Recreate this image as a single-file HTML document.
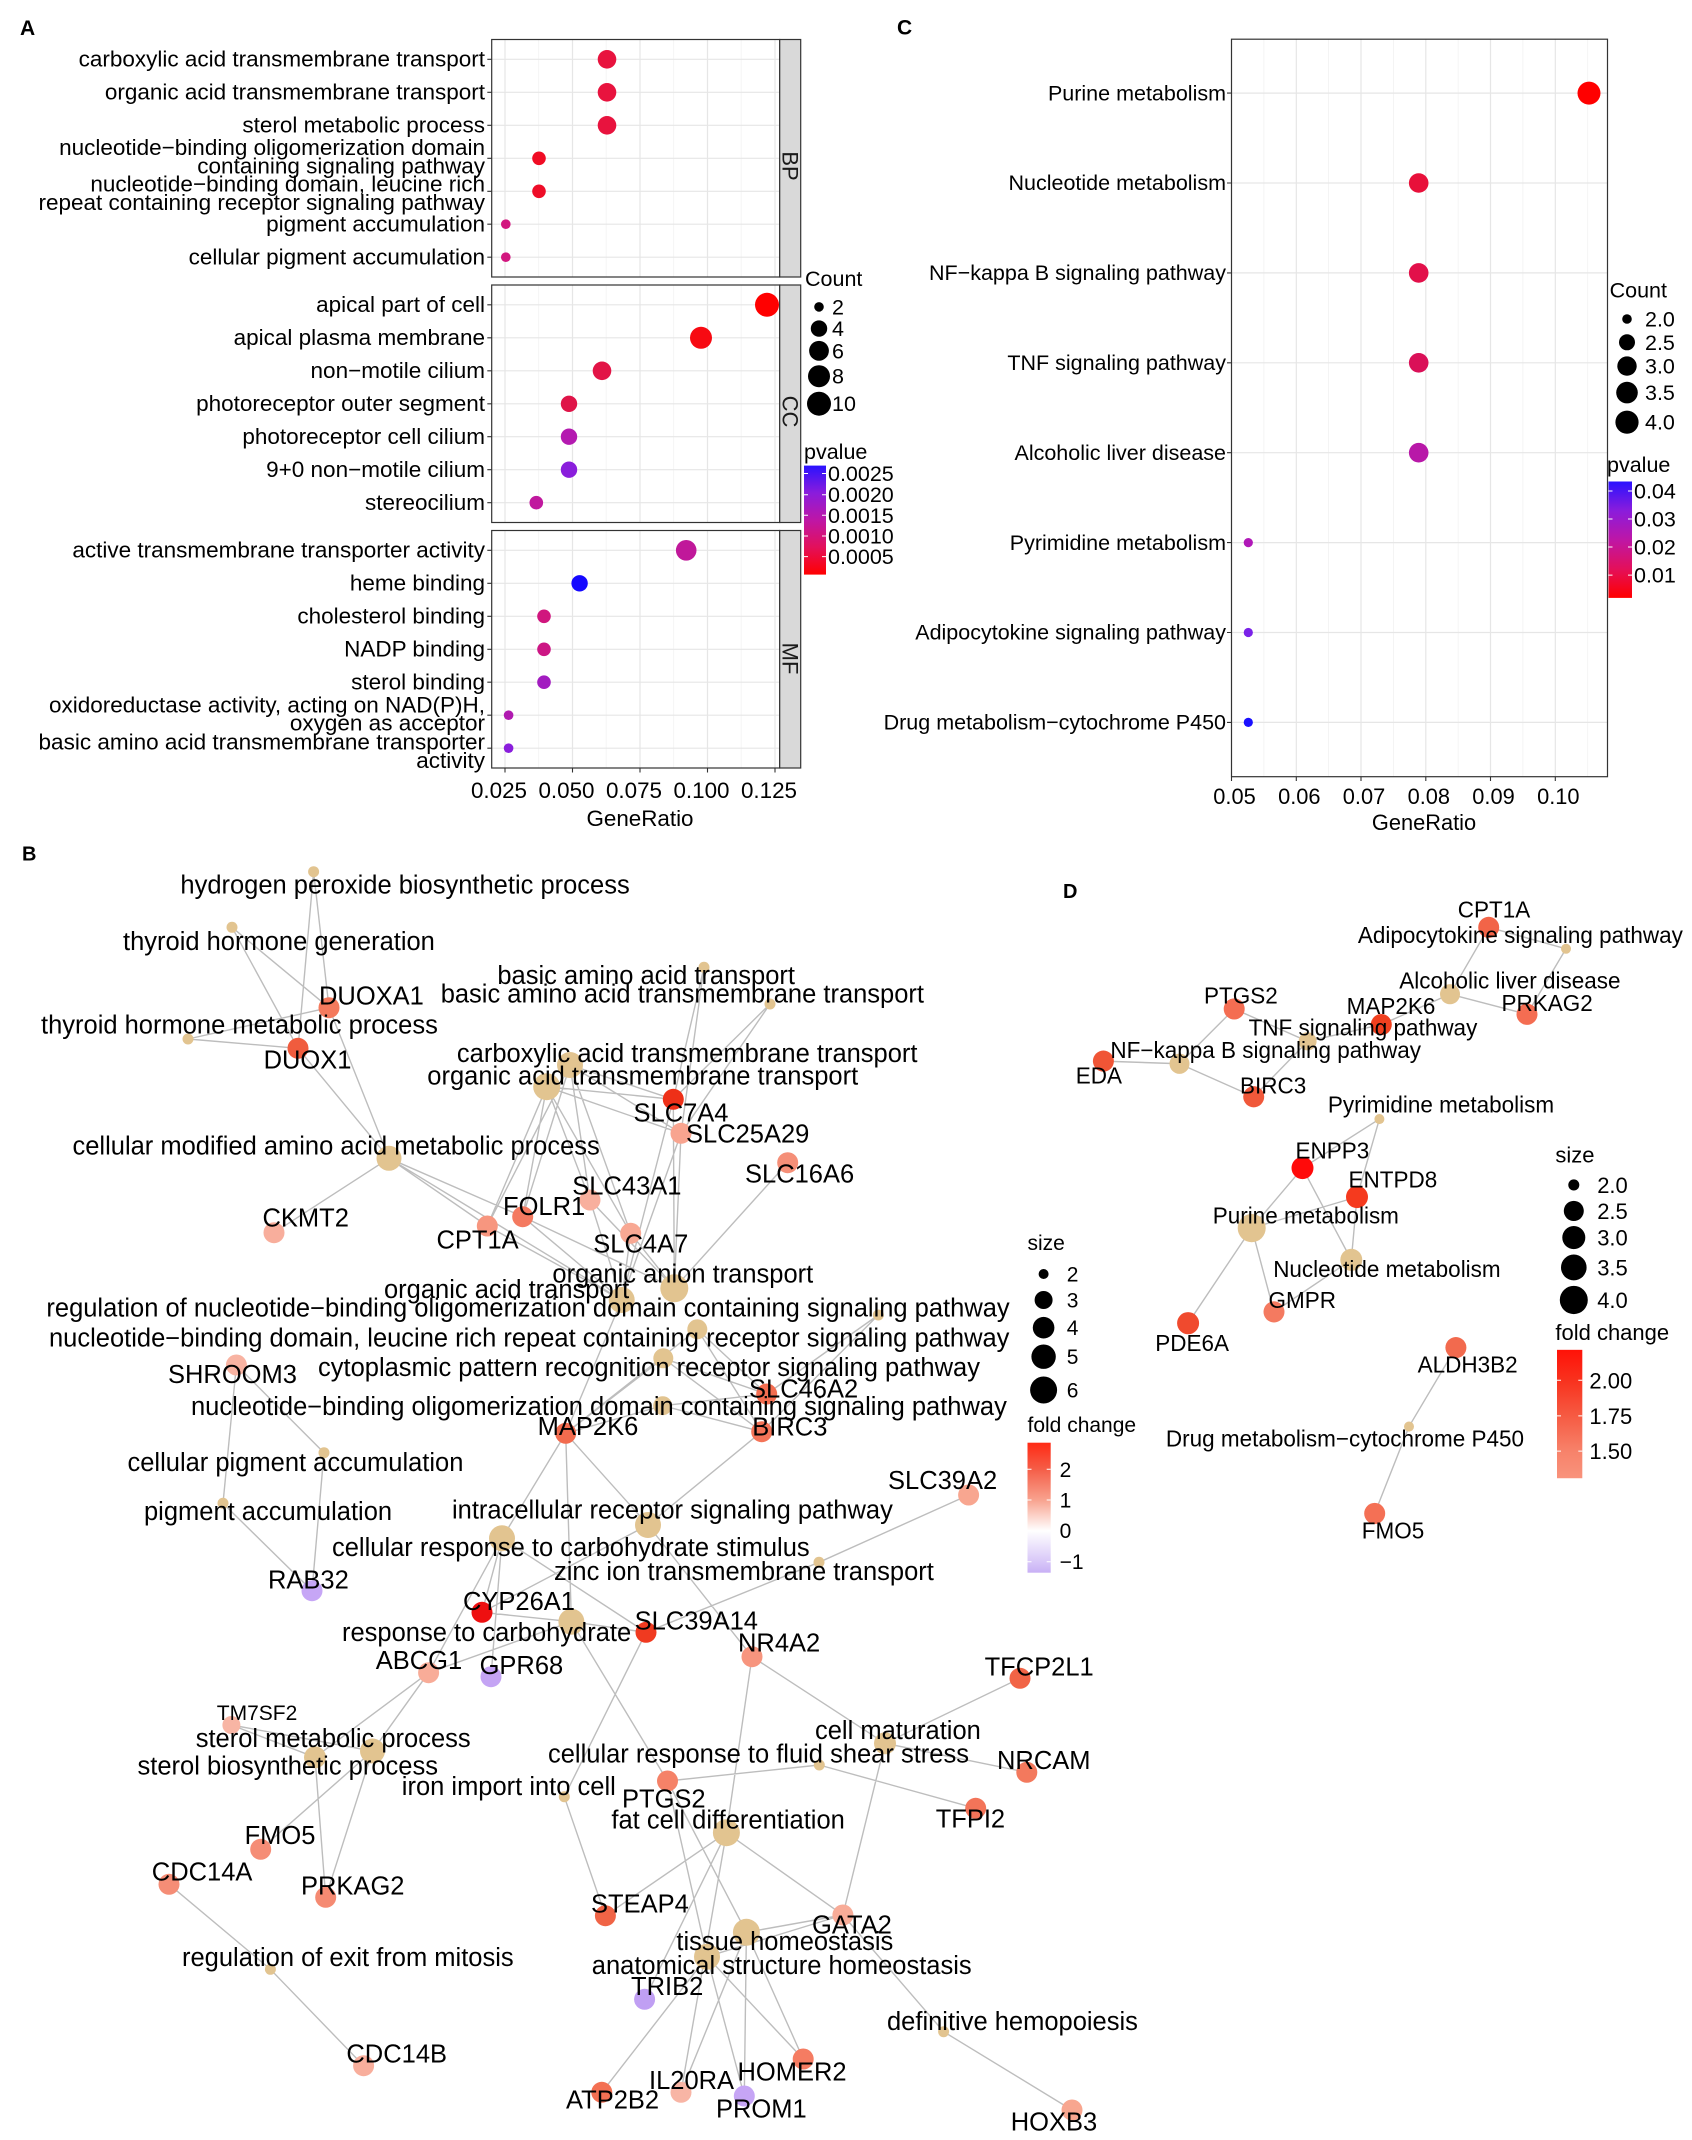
<!DOCTYPE html>
<html><head><meta charset="utf-8"><style>
html,body{margin:0;padding:0;background:#fff;}
svg{display:block;font-family:"Liberation Sans",Arial,sans-serif;}
</style></head><body>
<svg xmlns="http://www.w3.org/2000/svg" width="1692" height="2140" viewBox="0 0 1692 2140">
<defs>
<linearGradient id="gA" x1="0" y1="0" x2="0" y2="1">
<stop offset="0" stop-color="#2A12FF"/><stop offset="0.25" stop-color="#8A1CDC"/><stop offset="0.5" stop-color="#BE16A6"/><stop offset="0.75" stop-color="#E3105A"/><stop offset="1" stop-color="#FF0000"/></linearGradient>
<linearGradient id="gC" x1="0" y1="0" x2="0" y2="1">
<stop offset="0" stop-color="#2A12FF"/><stop offset="0.25" stop-color="#8A1CDC"/><stop offset="0.5" stop-color="#BE16A6"/><stop offset="0.75" stop-color="#E3105A"/><stop offset="1" stop-color="#FF0000"/></linearGradient>
<linearGradient id="gB" x1="0" y1="0" x2="0" y2="1">
<stop offset="0" stop-color="#FF2A14"/><stop offset="0.205" stop-color="#F55E48"/><stop offset="0.44" stop-color="#F8A28E"/><stop offset="0.677" stop-color="#FFFFFF"/><stop offset="0.915" stop-color="#D8C7F8"/><stop offset="1" stop-color="#C8B0F5"/></linearGradient>
<linearGradient id="gD" x1="0" y1="0" x2="0" y2="1">
<stop offset="0" stop-color="#FF1208"/><stop offset="0.24" stop-color="#F8321E"/><stop offset="0.51" stop-color="#F65A42"/><stop offset="0.79" stop-color="#F7826A"/><stop offset="1" stop-color="#F9937C"/></linearGradient>
</defs>
<rect x="0" y="0" width="1692" height="2140" fill="#fff"/>

<!-- ================= PANEL A ================= -->
<text x="20" y="35" font-size="21" font-weight="bold">A</text>
<g>
<rect x="491.7" y="39.5" width="288" height="237.5" fill="#fff"/>
<rect x="491.7" y="285" width="288" height="237.5" fill="#fff"/>
<rect x="491.7" y="530.5" width="288" height="237.5" fill="#fff"/>
<g stroke="#F2F2F2" stroke-width="0.8">
<path d="M538.7 39.5V277M606.2 39.5V277M673.7 39.5V277M741.2 39.5V277"/>
<path d="M538.7 285V522.5M606.2 285V522.5M673.7 285V522.5M741.2 285V522.5"/>
<path d="M538.7 530.5V768M606.2 530.5V768M673.7 530.5V768M741.2 530.5V768"/>
</g>
<g stroke="#E6E6E6" stroke-width="1.2">
<path d="M505 39.5V277M572.5 39.5V277M640 39.5V277M707.5 39.5V277M775 39.5V277"/>
<path d="M505 285V522.5M572.5 285V522.5M640 285V522.5M707.5 285V522.5M775 285V522.5"/>
<path d="M505 530.5V768M572.5 530.5V768M640 530.5V768M707.5 530.5V768M775 530.5V768"/>
<path d="M491.7 59.3H779.7M491.7 92.3H779.7M491.7 125.3H779.7M491.7 158.3H779.7M491.7 191.3H779.7M491.7 224.2H779.7M491.7 257.2H779.7"/>
<path d="M491.7 304.8H779.7M491.7 337.8H779.7M491.7 370.8H779.7M491.7 403.8H779.7M491.7 436.7H779.7M491.7 469.7H779.7M491.7 502.7H779.7"/>
<path d="M491.7 550.3H779.7M491.7 583.3H779.7M491.7 616.3H779.7M491.7 649.3H779.7M491.7 682.2H779.7M491.7 715.2H779.7M491.7 748.2H779.7"/>
</g>
<circle cx="607" cy="59.3" r="9.3" fill="#E8133E"/>
<circle cx="607" cy="92.3" r="9.3" fill="#E8133E"/>
<circle cx="607" cy="125.3" r="9.3" fill="#E8133E"/>
<circle cx="539" cy="158.3" r="6.8" fill="#F00C24"/>
<circle cx="539" cy="191.3" r="6.8" fill="#EE0D28"/>
<circle cx="505.8" cy="224.2" r="4.8" fill="#D2177F"/>
<circle cx="505.8" cy="257.2" r="4.8" fill="#D2177F"/>
<circle cx="767" cy="304.8" r="12" fill="#FF0000"/>
<circle cx="701" cy="337.8" r="11" fill="#F70A12"/>
<circle cx="602" cy="370.8" r="9.3" fill="#E21446"/>
<circle cx="569" cy="403.8" r="8.2" fill="#DF1448"/>
<circle cx="569" cy="436.7" r="8.2" fill="#B41AB0"/>
<circle cx="569" cy="469.7" r="8.2" fill="#8A1EDC"/>
<circle cx="536.3" cy="502.7" r="6.8" fill="#C0189E"/>
<circle cx="686.2" cy="550.3" r="10.3" fill="#C0189A"/>
<circle cx="579.6" cy="583.3" r="8.2" fill="#1508FF"/>
<circle cx="544" cy="616.3" r="6.8" fill="#D0167E"/>
<circle cx="544" cy="649.3" r="6.8" fill="#CC1684"/>
<circle cx="544" cy="682.2" r="6.8" fill="#A21CC0"/>
<circle cx="508.6" cy="715.2" r="4.8" fill="#B01AB0"/>
<circle cx="508.6" cy="748.2" r="4.8" fill="#8A1EDC"/>
<g fill="none" stroke="#333" stroke-width="1.2">
<rect x="491.7" y="39.5" width="288" height="237.5"/>
<rect x="491.7" y="285" width="288" height="237.5"/>
<rect x="491.7" y="530.5" width="288" height="237.5"/>
</g>
<g fill="#D9D9D9" stroke="#333" stroke-width="1.2">
<rect x="779.7" y="39.5" width="21" height="237.5"/>
<rect x="779.7" y="285" width="21" height="237.5"/>
<rect x="779.7" y="530.5" width="21" height="237.5"/>
</g>
<g font-size="22" fill="#1a1a1a" text-anchor="middle">
<text transform="translate(782.5,166) rotate(90)">BP</text>
<text transform="translate(782.5,411.5) rotate(90)">CC</text>
<text transform="translate(782.5,658.5) rotate(90)">MF</text>
</g>
<g stroke="#333" stroke-width="1.1">
<path d="M487.3 59.3H491.7M487.3 92.3H491.7M487.3 125.3H491.7M487.3 158.3H491.7M487.3 191.3H491.7M487.3 224.2H491.7M487.3 257.2H491.7"/>
<path d="M487.3 304.8H491.7M487.3 337.8H491.7M487.3 370.8H491.7M487.3 403.8H491.7M487.3 436.7H491.7M487.3 469.7H491.7M487.3 502.7H491.7"/>
<path d="M487.3 550.3H491.7M487.3 583.3H491.7M487.3 616.3H491.7M487.3 649.3H491.7M487.3 682.2H491.7M487.3 715.2H491.7M487.3 748.2H491.7"/>
<path d="M505 768V772.5M572.5 768V772.5M640 768V772.5M707.5 768V772.5M775 768V772.5"/>
</g>
<g font-size="22.5" fill="#000" text-anchor="end">
<text x="485" y="66.5">carboxylic acid transmembrane transport</text>
<text x="485" y="99.5">organic acid transmembrane transport</text>
<text x="485" y="132.5">sterol metabolic process</text>
<text x="485" y="155">nucleotide−binding oligomerization domain</text>
<text x="485" y="173.5">containing signaling pathway</text>
<text x="485" y="191.3">nucleotide−binding domain, leucine rich</text>
<text x="485" y="209.8">repeat containing receptor signaling pathway</text>
<text x="485" y="231.4">pigment accumulation</text>
<text x="485" y="264.4">cellular pigment accumulation</text>
<text x="485" y="312">apical part of cell</text>
<text x="485" y="345">apical plasma membrane</text>
<text x="485" y="378">non−motile cilium</text>
<text x="485" y="411">photoreceptor outer segment</text>
<text x="485" y="443.9">photoreceptor cell cilium</text>
<text x="485" y="476.9">9+0 non−motile cilium</text>
<text x="485" y="509.9">stereocilium</text>
<text x="485" y="557.5">active transmembrane transporter activity</text>
<text x="485" y="590.5">heme binding</text>
<text x="485" y="623.5">cholesterol binding</text>
<text x="485" y="656.5">NADP binding</text>
<text x="485" y="689.4">sterol binding</text>
<text x="485" y="712.5">oxidoreductase activity, acting on NAD(P)H,</text>
<text x="485" y="730.7">oxygen as acceptor</text>
<text x="485" y="749.7">basic amino acid transmembrane transporter</text>
<text x="485" y="768.2">activity</text>
</g>
<g font-size="22.4" fill="#000" text-anchor="middle">
<text x="499" y="798">0.025</text>
<text x="566.5" y="798">0.050</text>
<text x="634" y="798">0.075</text>
<text x="701.5" y="798">0.100</text>
<text x="769" y="798">0.125</text>
<text x="640" y="826">GeneRatio</text>
</g>
<g font-size="21.5" fill="#000">
<text x="805" y="286">Count</text>
<circle cx="819" cy="306.9" r="4.8"/>
<circle cx="819" cy="328.6" r="8.2"/>
<circle cx="819" cy="350.8" r="9.9"/>
<circle cx="819" cy="376.2" r="11"/>
<circle cx="819" cy="403.7" r="12"/>
<text x="832" y="314.4">2</text>
<text x="832" y="336.1">4</text>
<text x="832" y="358.3">6</text>
<text x="832" y="383.7">8</text>
<text x="832" y="411.2">10</text>
<text x="804" y="459">pvalue</text>
<rect x="804" y="465.6" width="22" height="109" fill="url(#gA)"/>
<g stroke="#fff" stroke-width="1"><path d="M804 473.5h4M822 473.5h4M804 494.7h4M822 494.7h4M804 515.3h4M822 515.3h4M804 536h4M822 536h4M804 556.6h4M822 556.6h4"/></g>
<text x="828" y="481">0.0025</text>
<text x="828" y="502">0.0020</text>
<text x="828" y="522.8">0.0015</text>
<text x="828" y="543.5">0.0010</text>
<text x="828" y="564">0.0005</text>
</g>
</g>

<!-- ================= PANEL C ================= -->
<text x="897" y="34.4" font-size="21" font-weight="bold">C</text>
<g>
<g stroke="#F2F2F2" stroke-width="0.8">
<path d="M1263.9 39.2V776.7M1328.6 39.2V776.7M1393.4 39.2V776.7M1458.2 39.2V776.7M1522.9 39.2V776.7M1587.7 39.2V776.7"/>
</g>
<g stroke="#E6E6E6" stroke-width="1.2">
<path d="M1296.3 39.2V776.7M1361 39.2V776.7M1425.8 39.2V776.7M1490.5 39.2V776.7M1555.3 39.2V776.7"/>
<path d="M1231.5 93.1H1607.5M1231.5 183H1607.5M1231.5 272.9H1607.5M1231.5 362.8H1607.5M1231.5 452.7H1607.5M1231.5 542.6H1607.5M1231.5 632.5H1607.5M1231.5 722.4H1607.5"/>
</g>
<circle cx="1589" cy="93.1" r="11.5" fill="#FF0000"/>
<circle cx="1418.7" cy="183" r="9.8" fill="#E8103A"/>
<circle cx="1418.7" cy="272.9" r="9.8" fill="#E2104A"/>
<circle cx="1418.7" cy="362.8" r="9.8" fill="#DA1058"/>
<circle cx="1418.7" cy="452.7" r="9.8" fill="#B818A8"/>
<circle cx="1248.3" cy="542.6" r="4.6" fill="#B018B8"/>
<circle cx="1248.3" cy="632.5" r="4.6" fill="#7A22E8"/>
<circle cx="1248.3" cy="722.4" r="4.6" fill="#1A10FF"/>
<rect x="1231.5" y="39.2" width="376" height="737.5" fill="none" stroke="#333" stroke-width="1.2"/>
<g stroke="#333" stroke-width="1.1">
<path d="M1227 93.1H1231.5M1227 183H1231.5M1227 272.9H1231.5M1227 362.8H1231.5M1227 452.7H1231.5M1227 542.6H1231.5M1227 632.5H1231.5M1227 722.4H1231.5"/>
<path d="M1231.5 776.7V781M1296.3 776.7V781M1361 776.7V781M1425.8 776.7V781M1490.5 776.7V781M1555.3 776.7V781"/>
</g>
<g font-size="21.5" fill="#000" text-anchor="end">
<text x="1226" y="100.3">Purine metabolism</text>
<text x="1226" y="190.2">Nucleotide metabolism</text>
<text x="1226" y="280.1">NF−kappa B signaling pathway</text>
<text x="1226" y="370">TNF signaling pathway</text>
<text x="1226" y="459.9">Alcoholic liver disease</text>
<text x="1226" y="549.8">Pyrimidine metabolism</text>
<text x="1226" y="639.7">Adipocytokine signaling pathway</text>
<text x="1226" y="729.6">Drug metabolism−cytochrome P450</text>
</g>
<g font-size="21.8" fill="#000" text-anchor="middle">
<text x="1234.5" y="804">0.05</text>
<text x="1299.3" y="804">0.06</text>
<text x="1364" y="804">0.07</text>
<text x="1428.8" y="804">0.08</text>
<text x="1493.5" y="804">0.09</text>
<text x="1558.3" y="804">0.10</text>
<text x="1424" y="830">GeneRatio</text>
</g>
<g font-size="21.5" fill="#000">
<text x="1609.6" y="297.5">Count</text>
<circle cx="1627" cy="319" r="4.8"/>
<circle cx="1627" cy="342.3" r="8"/>
<circle cx="1627" cy="366.1" r="9.7"/>
<circle cx="1627" cy="392.6" r="10.8"/>
<circle cx="1627" cy="422.2" r="11.6"/>
<text x="1645" y="326.5">2.0</text>
<text x="1645" y="349.8">2.5</text>
<text x="1645" y="373.6">3.0</text>
<text x="1645" y="400.1">3.5</text>
<text x="1645" y="429.7">4.0</text>
<text x="1607" y="472">pvalue</text>
<rect x="1608.5" y="481.5" width="23.5" height="116.4" fill="url(#gC)"/>
<g stroke="#fff" stroke-width="1"><path d="M1608.5 491h4M1628 491h4M1608.5 519h4M1628 519h4M1608.5 547h4M1628 547h4M1608.5 575.1h4M1628 575.1h4"/></g>
<text x="1634" y="498.5">0.04</text>
<text x="1634" y="526.5">0.03</text>
<text x="1634" y="554.5">0.02</text>
<text x="1634" y="582.6">0.01</text>
</g>
</g>

<!-- ================= PANEL B ================= -->
<text x="22" y="860.7" font-size="20" font-weight="bold">B</text>
<g stroke="#BDBDBD" stroke-width="1.4" fill="none">
<path d="M313.6 871.7L329 1007.7M313.6 871.7L298 1048.3M232 927.3L329 1007.7M232 927.3L298 1048.3M188 1039L329 1007.7M188 1039L298 1048.3
M389 1158.3L329 1007.7M389 1158.3L298 1048.3M389 1158.3L274 1232.7M389 1158.3L487.3 1226M389 1158.3L522.7 1216.7M389 1158.3L621.7 1300
M704 967.3L673.3 1099.3M704 967.3L681 1133.3M770 1004L673.3 1099.3M770 1004L681 1133.3
M570 1065L673.3 1099.3M570 1065L681 1133.3M570 1065L487.3 1226M570 1065L522.7 1216.7M570 1065L590 1200M570 1065L630.7 1233.3
M546.7 1086.7L673.3 1099.3M546.7 1086.7L681 1133.3M546.7 1086.7L487.3 1226M546.7 1086.7L522.7 1216.7M546.7 1086.7L590 1200M546.7 1086.7L630.7 1233.3
M674.3 1288.3L681 1133.3M674.3 1288.3L787.7 1162.7M674.3 1288.3L590 1200M674.3 1288.3L522.7 1216.7M674.3 1288.3L630.7 1233.3M674.3 1288.3L673.3 1099.3
M621.7 1300L673.3 1099.3M621.7 1300L681 1133.3M621.7 1300L487.3 1226M621.7 1300L522.7 1216.7M621.7 1300L590 1200M621.7 1300L630.7 1233.3M621.7 1300L565.7 1433.3
M878.3 1315L766.7 1394M878.3 1315L761.7 1431.7
M697.3 1329.3L766.7 1394M697.3 1329.3L565.7 1433.3M697.3 1329.3L761.7 1431.7
M663.3 1358.3L766.7 1394M663.3 1358.3L565.7 1433.3M663.3 1358.3L761.7 1431.7
M662.7 1405.7L766.7 1394M662.7 1405.7L565.7 1433.3M662.7 1405.7L761.7 1431.7
M324 1452.7L236.4 1365M324 1452.7L312 1590.7M223 1503.3L236.4 1365M223 1503.3L312 1590.7
M648 1525L565.7 1433.3M648 1525L761.7 1431.7M648 1525L752 1656.7M648 1525L482 1612.3
M502 1538.3L565.7 1433.3M502 1538.3L482 1612.3M502 1538.3L428.6 1672.7M502 1538.3L491 1676.7M502 1538.3L646 1632.3
M571.4 1621.7L565.7 1433.3M571.4 1621.7L482 1612.3M571.4 1621.7L428.6 1672.7M571.4 1621.7L646 1632.3M571.4 1621.7L667.5 1781
M819 1562.3L968.6 1495M819 1562.3L646 1632.3
M372.5 1751L428.6 1672.7M372.5 1751L231.4 1725M372.5 1751L260.7 1849.3M372.5 1751L325.7 1897.3
M315 1757.3L428.6 1672.7M315 1757.3L231.4 1725M315 1757.3L325.7 1897.3
M564.3 1796.7L646 1632.3M564.3 1796.7L605.4 1915.7
M270.4 1969.3L169 1884.3M270.4 1969.3L363.6 2065.7
M885 1743.3L1020 1678.3M885 1743.3L1026.8 1772.3M885 1743.3L752 1656.7M885 1743.3L842.9 1915
M819.3 1765L667.5 1781M819.3 1765L975.7 1808.3
M726.4 1832.7L752 1656.7M726.4 1832.7L605.4 1915.7M726.4 1832.7L842.9 1915M726.4 1832.7L644.6 1999.3M726.4 1832.7L681 2092.3
M746.4 1932.3L842.9 1915M746.4 1932.3L803.2 2059M746.4 1932.3L744.3 2096M746.4 1932.3L681 2092.3M746.4 1932.3L667.5 1781
M707 1956.7L842.9 1915M707 1956.7L803.2 2059M707 1956.7L744.3 2096M707 1956.7L601.8 2092.3M707 1956.7L667.5 1781
M943.6 2031.7L842.9 1915M943.6 2031.7L1072 2110"/>
</g>
<g fill="#E2C490">
<circle cx="313.6" cy="871.7" r="5.5"/>
<circle cx="232" cy="927.3" r="5.5"/>
<circle cx="188" cy="1039" r="5.5"/>
<circle cx="704" cy="967.3" r="5.5"/>
<circle cx="770" cy="1004" r="5.5"/>
<circle cx="570" cy="1065" r="13"/>
<circle cx="546.7" cy="1086.7" r="13.5"/>
<circle cx="389" cy="1158.3" r="12.5"/>
<circle cx="674.3" cy="1288.3" r="14"/>
<circle cx="621.7" cy="1300" r="13"/>
<circle cx="878.3" cy="1315" r="5.5"/>
<circle cx="697.3" cy="1329.3" r="10"/>
<circle cx="663.3" cy="1358.3" r="10"/>
<circle cx="662.7" cy="1405.7" r="9.5"/>
<circle cx="324" cy="1452.7" r="5.5"/>
<circle cx="223" cy="1503.3" r="5.5"/>
<circle cx="648" cy="1525" r="13"/>
<circle cx="502" cy="1538.3" r="13"/>
<circle cx="819" cy="1562.3" r="5.5"/>
<circle cx="571.4" cy="1621.7" r="13"/>
<circle cx="372.5" cy="1751" r="12.5"/>
<circle cx="315" cy="1757.3" r="11"/>
<circle cx="564.3" cy="1796.7" r="5.5"/>
<circle cx="270.4" cy="1969.3" r="5.5"/>
<circle cx="885" cy="1743.3" r="11"/>
<circle cx="819.3" cy="1765" r="5.5"/>
<circle cx="726.4" cy="1832.7" r="13.5"/>
<circle cx="746.4" cy="1932.3" r="13.5"/>
<circle cx="707" cy="1956.7" r="13"/>
<circle cx="943.6" cy="2031.7" r="5.5"/>
</g>
<g>
<circle cx="329" cy="1007.7" r="10.5" fill="#F47A5D"/>
<circle cx="298" cy="1048.3" r="10.5" fill="#F05C3E"/>
<circle cx="274" cy="1232.7" r="10.5" fill="#F8AE9C"/>
<circle cx="487.3" cy="1226" r="10.5" fill="#F7967F"/>
<circle cx="522.7" cy="1216.7" r="10.5" fill="#F47A60"/>
<circle cx="590" cy="1200" r="10.5" fill="#F8AF9D"/>
<circle cx="673.3" cy="1099.3" r="10.5" fill="#EE3018"/>
<circle cx="681" cy="1133.3" r="10.5" fill="#F8A48F"/>
<circle cx="787.7" cy="1162.7" r="10.5" fill="#F58F78"/>
<circle cx="630.7" cy="1233.3" r="10.5" fill="#F8A893"/>
<circle cx="236.4" cy="1365" r="10.5" fill="#F8B3A2"/>
<circle cx="766.7" cy="1394" r="10.5" fill="#F36D50"/>
<circle cx="565.7" cy="1433.3" r="10.5" fill="#F26B4E"/>
<circle cx="761.7" cy="1431.7" r="10.5" fill="#F47458"/>
<circle cx="968.6" cy="1495" r="10.5" fill="#F8A690"/>
<circle cx="312" cy="1590.7" r="10.5" fill="#C6A6F6"/>
<circle cx="482" cy="1612.3" r="10.5" fill="#EE0F10"/>
<circle cx="646" cy="1632.3" r="10.5" fill="#F03A20"/>
<circle cx="428.6" cy="1672.7" r="10.5" fill="#F8AC98"/>
<circle cx="491" cy="1676.7" r="10.5" fill="#C4A4F4"/>
<circle cx="752" cy="1656.7" r="10.5" fill="#F7957E"/>
<circle cx="1020" cy="1678.3" r="10.5" fill="#F16446"/>
<circle cx="231.4" cy="1725" r="9" fill="#F8B5A4"/>
<circle cx="260.7" cy="1849.3" r="10.5" fill="#F58D76"/>
<circle cx="169" cy="1884.3" r="10.5" fill="#F58D76"/>
<circle cx="325.7" cy="1897.3" r="10.5" fill="#F58A72"/>
<circle cx="363.6" cy="2065.7" r="10.5" fill="#F8AE9C"/>
<circle cx="1026.8" cy="1772.3" r="10.5" fill="#F3795D"/>
<circle cx="667.5" cy="1781" r="10.5" fill="#F58268"/>
<circle cx="975.7" cy="1808.3" r="10.5" fill="#F37459"/>
<circle cx="605.4" cy="1915.7" r="10.5" fill="#F06446"/>
<circle cx="842.9" cy="1915" r="10.5" fill="#F8AC98"/>
<circle cx="644.6" cy="1999.3" r="10.5" fill="#C09FF3"/>
<circle cx="803.2" cy="2059" r="10.5" fill="#F57C62"/>
<circle cx="681" cy="2092.3" r="10.5" fill="#F8B5A5"/>
<circle cx="601.8" cy="2092.3" r="10.5" fill="#F37053"/>
<circle cx="744.3" cy="2096" r="10.5" fill="#C6A5F5"/>
<circle cx="1072" cy="2110" r="10.5" fill="#F8A68F"/>
</g>
<g font-size="25.5" fill="#000">
<text x="180.4" y="893.5">hydrogen peroxide biosynthetic process</text>
<text x="123" y="950.2">thyroid hormone generation</text>
<text x="319" y="1004.7">DUOXA1</text>
<text x="795" y="984.2" text-anchor="end">basic amino acid transport</text>
<text x="924" y="1002.5" text-anchor="end">basic amino acid transmembrane transport</text>
<text x="41" y="1033.5">thyroid hormone metabolic process</text>
<text x="917.5" y="1062" text-anchor="end">carboxylic acid transmembrane transport</text>
<text x="263.6" y="1068.3">DUOX1</text>
<text x="427.3" y="1084.5">organic acid transmembrane transport</text>
<text x="633.5" y="1121.7">SLC7A4</text>
<text x="686" y="1142.3">SLC25A29</text>
<text x="72.5" y="1154.5">cellular modified amino acid metabolic process</text>
<text x="745" y="1182.3">SLC16A6</text>
<text x="572.3" y="1194.5">SLC43A1</text>
<text x="503" y="1215">FOLR1</text>
<text x="262.5" y="1226.7">CKMT2</text>
<text x="436.5" y="1248.3">CPT1A</text>
<text x="593.3" y="1252.3">SLC4A7</text>
<text x="552.4" y="1282.5">organic anion transport</text>
<text x="384" y="1298">organic acid transport</text>
<text x="46.4" y="1316.3">regulation of nucleotide−binding oligomerization domain containing signaling pathway</text>
<text x="49" y="1346.5">nucleotide−binding domain, leucine rich repeat containing receptor signaling pathway</text>
<text x="318" y="1375.8">cytoplasmic pattern recognition receptor signaling pathway</text>
<text x="168" y="1383">SHROOM3</text>
<text x="749" y="1397.3">SLC46A2</text>
<text x="191" y="1415.2">nucleotide−binding oligomerization domain containing signaling pathway</text>
<text x="638.3" y="1434.8" text-anchor="end">MAP2K6</text>
<text x="752.3" y="1435.7">BIRC3</text>
<text x="127.5" y="1471.2">cellular pigment accumulation</text>
<text x="888" y="1489">SLC39A2</text>
<text x="144" y="1520.2">pigment accumulation</text>
<text x="452" y="1518.5">intracellular receptor signaling pathway</text>
<text x="332" y="1555.8">cellular response to carbohydrate stimulus</text>
<text x="554" y="1580.2">zinc ion transmembrane transport</text>
<text x="268" y="1588.3">RAB32</text>
<text x="463" y="1610">CYP26A1</text>
<text x="634.6" y="1629.7">SLC39A14</text>
<text x="342" y="1640.8">response to carbohydrate</text>
<text x="738" y="1651.7">NR4A2</text>
<text x="375.7" y="1669">ABCG1</text>
<text x="479.6" y="1674">GPR68</text>
<text x="984.6" y="1675.7">TFCP2L1</text>
<text x="216.8" y="1719.8" font-size="21">TM7SF2</text>
<text x="815" y="1739.2">cell maturation</text>
<text x="195.7" y="1746.8">sterol metabolic process</text>
<text x="548" y="1762.5">cellular response to fluid shear stress</text>
<text x="997" y="1769">NRCAM</text>
<text x="137.5" y="1774.5">sterol biosynthetic process</text>
<text x="401.8" y="1795.2">iron import into cell</text>
<text x="622" y="1807.3">PTGS2</text>
<text x="935.7" y="1827.3">TFPI2</text>
<text x="611.4" y="1828.5">fat cell differentiation</text>
<text x="244.6" y="1844">FMO5</text>
<text x="151.8" y="1880.7">CDC14A</text>
<text x="301" y="1894.7">PRKAG2</text>
<text x="591" y="1912.3">STEAP4</text>
<text x="812" y="1933.3">GATA2</text>
<text x="676.4" y="1950.2">tissue homeostasis</text>
<text x="182" y="1966.2">regulation of exit from mitosis</text>
<text x="591.8" y="1974.2">anatomical structure homeostasis</text>
<text x="631" y="1995">TRIB2</text>
<text x="887" y="2030.2">definitive hemopoiesis</text>
<text x="346.4" y="2062.3">CDC14B</text>
<text x="737.5" y="2080.7">HOMER2</text>
<text x="649" y="2089">IL20RA</text>
<text x="566" y="2108.3">ATP2B2</text>
<text x="716" y="2117.3">PROM1</text>
<text x="1010.7" y="2130.7">HOXB3</text>
</g>
<g font-size="21" fill="#000">
<text x="1027.5" y="1250">size</text>
<circle cx="1043.6" cy="1274" r="5"/>
<circle cx="1043.6" cy="1300" r="9"/>
<circle cx="1043.6" cy="1327.7" r="10.8"/>
<circle cx="1043.6" cy="1356.7" r="12.2"/>
<circle cx="1043.6" cy="1390" r="13.5"/>
<text x="1066.8" y="1281.5">2</text>
<text x="1066.8" y="1307.5">3</text>
<text x="1066.8" y="1335.2">4</text>
<text x="1066.8" y="1364.2">5</text>
<text x="1066.8" y="1397.5">6</text>
<text x="1027.5" y="1432">fold change</text>
<rect x="1027.5" y="1442.7" width="23.2" height="130" fill="url(#gB)"/>
<g stroke="#fff" stroke-width="1"><path d="M1027.5 1469.3h4M1046.7 1469.3h4M1027.5 1500h4M1046.7 1500h4M1027.5 1530.7h4M1046.7 1530.7h4M1027.5 1561.7h4M1046.7 1561.7h4"/></g>
<text x="1059.6" y="1476.8">2</text>
<text x="1059.6" y="1507.5">1</text>
<text x="1059.6" y="1538.2">0</text>
<text x="1059.6" y="1569.2">−1</text>
</g>

<!-- ================= PANEL D ================= -->
<text x="1063" y="898" font-size="20" font-weight="bold">D</text>
<g transform="matrix(1 0 0 1.0095 0 -8.55)">
<g stroke="#BDBDBD" stroke-width="1.4" fill="none">
<path d="M1488.7 927.1L1450 993.3M1488.7 927.1L1566 948.3M1527 1013.2L1566 948.3M1527 1013.2L1450 993.3
M1381.3 1023.4L1450 993.3M1381.3 1023.4L1307.6 1040M1234.2 1007.9L1307.6 1040M1234.2 1007.9L1179.5 1062.2
M1103.4 1059.6L1179.5 1062.2M1253.7 1094.9L1179.5 1062.2M1253.7 1094.9L1307.6 1040
M1302.5 1165.5L1379.4 1117M1357 1194.2L1379.4 1117M1302.5 1165.5L1251.7 1225M1357 1194.2L1251.7 1225
M1302.5 1165.5L1351.3 1256.5M1357 1194.2L1351.3 1256.5M1274 1308L1251.7 1225M1274 1308L1351.3 1256.5
M1188.1 1319.2L1251.7 1225M1455.9 1343.4L1409 1421.6M1374.7 1507.7L1409 1421.6"/>
</g>
<g fill="#E2C490">
<circle cx="1566" cy="948.3" r="5"/>
<circle cx="1450" cy="993.3" r="10"/>
<circle cx="1307.6" cy="1040" r="9"/>
<circle cx="1179.5" cy="1062.2" r="10"/>
<circle cx="1379.4" cy="1117" r="5"/>
<circle cx="1251.7" cy="1225" r="14"/>
<circle cx="1351.3" cy="1256.5" r="11"/>
<circle cx="1409" cy="1421.6" r="5"/>
</g>
<g>
<circle cx="1488.7" cy="927.1" r="10.5" fill="#F26448"/>
<circle cx="1527" cy="1013.2" r="10.5" fill="#F46D52"/>
<circle cx="1234.2" cy="1007.9" r="10.5" fill="#F46D52"/>
<circle cx="1381.3" cy="1023.4" r="10.5" fill="#F0401F"/>
<circle cx="1103.4" cy="1059.6" r="10.5" fill="#F05536"/>
<circle cx="1253.7" cy="1094.9" r="10.5" fill="#F0583A"/>
<circle cx="1302.5" cy="1165.5" r="11" fill="#FF0A0A"/>
<circle cx="1357" cy="1194.2" r="11" fill="#F53A1E"/>
<circle cx="1274" cy="1308" r="10.5" fill="#F47A60"/>
<circle cx="1188.1" cy="1319.2" r="11" fill="#F04A2E"/>
<circle cx="1455.9" cy="1343.4" r="10.5" fill="#F26A4E"/>
<circle cx="1374.7" cy="1507.7" r="10.5" fill="#F47055"/>
</g>
<g font-size="22.5" fill="#000">
<text x="1457.8" y="917.4">CPT1A</text>
<text x="1357.9" y="942.5">Adipocytokine signaling pathway</text>
<text x="1399.3" y="987.5">Alcoholic liver disease</text>
<text x="1501.5" y="1010">PRKAG2</text>
<text x="1204" y="1002.7">PTGS2</text>
<text x="1346.6" y="1012.8">MAP2K6</text>
<text x="1248.6" y="1034.4">TNF signaling pathway</text>
<text x="1110.4" y="1056.5">NF−kappa B signaling pathway</text>
<text x="1122" y="1081.7" text-anchor="end">EDA</text>
<text x="1240" y="1091.8">BIRC3</text>
<text x="1327.9" y="1110.3">Pyrimidine metabolism</text>
<text x="1295.5" y="1156.3">ENPP3</text>
<text x="1348.5" y="1184.6">ENTPD8</text>
<text x="1212.7" y="1220.7">Purine metabolism</text>
<text x="1273.2" y="1273.7">Nucleotide metabolism</text>
<text x="1268.5" y="1304.2">GMPR</text>
<text x="1155.3" y="1347">PDE6A</text>
<text x="1417.6" y="1368.2">ALDH3B2</text>
<text x="1165.9" y="1441.5">Drug metabolism−cytochrome P450</text>
<text x="1361.8" y="1532.4">FMO5</text>
</g>
<g font-size="22" fill="#000">
<text x="1555.4" y="1160">size</text>
<circle cx="1573.8" cy="1182.3" r="5.5"/>
<circle cx="1573.8" cy="1208" r="10"/>
<circle cx="1573.8" cy="1234.4" r="11.5"/>
<circle cx="1573.8" cy="1264" r="12.8"/>
<circle cx="1573.8" cy="1296.2" r="14"/>
<text x="1597.2" y="1190.3">2.0</text>
<text x="1597.2" y="1216">2.5</text>
<text x="1597.2" y="1242.4">3.0</text>
<text x="1597.2" y="1272">3.5</text>
<text x="1597.2" y="1304.2">4.0</text>
<text x="1555.4" y="1336">fold change</text>
<rect x="1557" y="1345.6" width="25.3" height="127.2" fill="url(#gD)"/>
<g stroke="#fff" stroke-width="1"><path d="M1557 1375.7h4M1578.3 1375.7h4M1557 1411h4M1578.3 1411h4M1557 1445.9h4M1578.3 1445.9h4"/></g>
<text x="1589.4" y="1383.7">2.00</text>
<text x="1589.4" y="1419">1.75</text>
<text x="1589.4" y="1453.9">1.50</text>
</g>
</g>
</svg>
</body></html>
